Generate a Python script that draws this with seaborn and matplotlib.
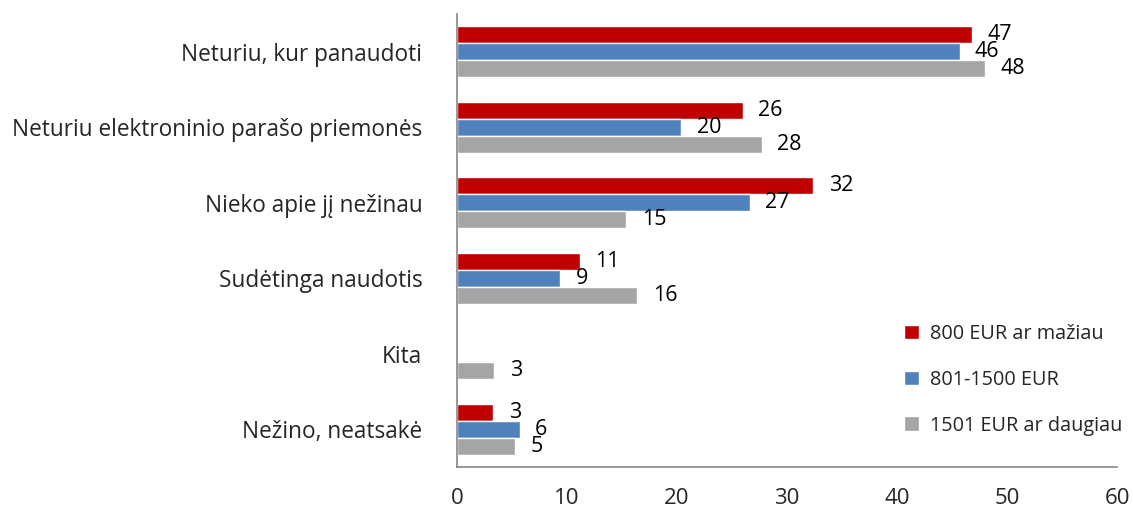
import numpy as np
import pandas as pd
import matplotlib
matplotlib.use("Agg")
import matplotlib.pyplot as plt
import seaborn as sns
from matplotlib.ticker import FixedLocator

# --- Data ---
CATEGORIES = [
    "Neturiu, kur panaudoti",
    "Neturiu elektroninio parašo priemonės",
    "Nieko apie jį nežinau",
    "Sudėtinga naudotis",
    "Kita",
    "Nežino, neatsakė",
]
SERIES = ["800 EUR ar mažiau", "801-1500 EUR", "1501 EUR ar daugiau"]
LOW_INCOME = [46.8, 26.0, 32.4, 11.2, 0, 3.3]
MID_INCOME = [45.7, 20.4, 26.6, 9.4, 0, 5.7]
HIGH_INCOME = [48.0, 27.7, 15.4, 16.4, 3.4, 5.3]
X_TICKS = [0, 10, 20, 30, 40, 50, 60]

COLORS = ["#C00000", "#4F81BD", "#A5A5A5"]
AXIS_GREY = "#868686"
FONT_SIZE = 15.5


def build_frame():
    rows = []
    for name, values in zip(SERIES, [LOW_INCOME, MID_INCOME, HIGH_INCOME]):
        for cat, v in zip(CATEGORIES, values):
            rows.append({"category": cat, "group": name, "value": v})
    return pd.DataFrame(rows)


def main():
    sns.set_style("white")
    plt.rcParams["font.family"] = ["Open Sans", "DejaVu Sans"]

    df = build_frame()
    fig = plt.figure(figsize=(11.33, 5.12), dpi=100)
    ax = fig.add_axes([457 / 1133, 1 - 467 / 512, 660 / 1133, 453 / 512])

    sns.barplot(
        data=df, x="value", y="category", hue="group",
        order=CATEGORIES, hue_order=SERIES, palette=COLORS,
        orient="h", width=0.68, saturation=1, ax=ax,
    )

    # value labels, skip empty bars
    for container in ax.containers:
        vals = container.datavalues
        labels = [f"{v:.0f}" if v > 0 else "" for v in vals]
        ax.bar_label(container, labels=labels, padding=11,
                     fontsize=FONT_SIZE, color="black")

    ax.set_xlim(0, 60)
    ax.set_ylim(len(CATEGORIES) - 0.5, -0.5)
    ax.set_xticks(X_TICKS)
    ax.set_xlabel("")
    ax.set_ylabel("")
    ax.tick_params(axis="x", labelsize=FONT_SIZE + 0.5, length=5,
                   color=AXIS_GREY, direction="out", pad=10)
    ax.tick_params(axis="y", which="major", labelsize=FONT_SIZE + 0.8,
                   length=0, pad=25)
    ax.yaxis.set_minor_locator(FixedLocator(np.arange(-0.5, len(CATEGORIES), 1)))
    ax.tick_params(axis="y", which="minor", length=5, color=AXIS_GREY,
                   direction="out")

    sns.despine(ax=ax)
    for side in ["left", "bottom"]:
        ax.spines[side].set_color(AXIS_GREY)
        ax.spines[side].set_linewidth(1.2)

    ax.legend(
        loc="lower right", bbox_to_anchor=(1.035, 0.03), frameon=False,
        fontsize=FONT_SIZE - 1.2, handlelength=0.75, handleheight=0.75,
        handletextpad=0.55, labelspacing=1.3,
    )

    fig.savefig("out.png", dpi=100)
    plt.close(fig)


if __name__ == "__main__":
    main()
